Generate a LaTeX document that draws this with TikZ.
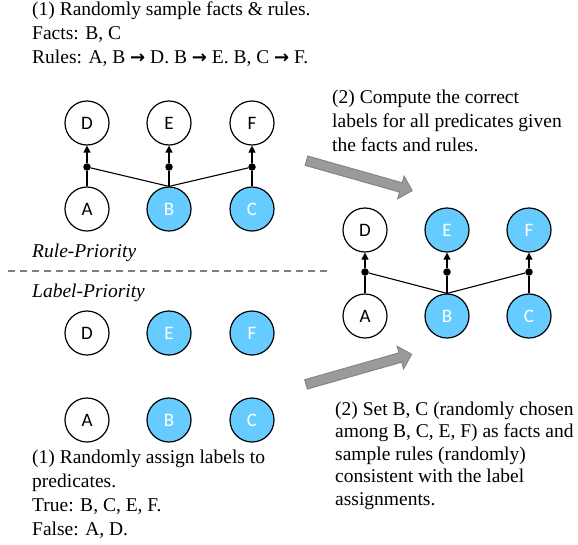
\documentclass[tikz,border=0pt]{standalone}
\usepackage{fontspec}
\setmainfont{Liberation Serif}
\newfontfamily\predfont{Carlito}
\newfontfamily\arrowfont{DejaVu Sans}
\usetikzlibrary{arrows.meta,shapes.arrows}

\definecolor{factblue}{HTML}{66CCFF}
\definecolor{stepfill}{HTML}{9A9A9A}
\definecolor{stepline}{HTML}{7F7F7F}

\newcommand{\ra}{{\arrowfont\bfseries\fontsize{18}{24}\selectfont →}}

\tikzset{
  pred/.style={circle, draw, line width=1.2pt, minimum size=44pt, inner sep=0pt,
    font=\predfont\fontsize{19}{19}\selectfont},
  fact/.style={pred, fill=factblue, text=white},
  junc/.style={circle, fill, inner sep=0pt, minimum size=7.5pt},
  infer/.style={line width=1.1pt, -{Triangle[length=7pt,width=7pt]}},
  txt/.style={anchor=base west, align=left, inner sep=0pt,
    font=\fontsize{19.5}{24}\selectfont},
  steparrow/.style={single arrow, draw=stepline, fill=stepfill, line width=0.8pt,
    minimum height=110pt, minimum width=23pt, inner sep=4.5pt,
    single arrow head extend=7pt}
}

\begin{document}
\begin{tikzpicture}[x=1pt, y=-1pt]
\useasboundingbox (0,0) rectangle (578,544);

% texts are anchored at the baseline of their last line
\node[txt] (sample) at (32,63) {(1) Randomly sample facts \& rules.\\
Facts: B, C\\
Rules: A, B \ra{} D. B \ra{} E. B, C \ra{} F.};

% rule-priority graph
\node[pred] (rD) at (87,123) {D};
\node[pred] (rE) at (169,123) {E};
\node[pred] (rF) at (252,123) {F};
\node[pred] (rA) at (87,209) {A};
\node[fact] (rB) at (169,209) {B};
\node[fact] (rC) at (252,209) {C};
\node[junc] (rjD) at (87,167) {};
\node[junc] (rjE) at (169,167) {};
\node[junc] (rjF) at (252,167) {};

\draw[line width=1.1pt] (rA) -- (rjD);
\draw[line width=1.1pt] (rB.north) -- (rjD);
\draw[line width=1.1pt] (rB) -- (rjE);
\draw[line width=1.1pt] (rB.north) -- (rjF);
\draw[line width=1.1pt] (rC) -- (rjF);
\foreach \p in {D,E,F}
  \draw[infer] (rj\p) -- (r\p);

\node[txt, font=\itshape\fontsize{19.5}{24}\selectfont] (rule) at (32,257) {Rule-Priority};
\draw[stepline, line width=2.5pt, dash pattern=on 7pt off 5pt] (8,271) -- (330,271);
\node[txt, font=\itshape\fontsize{19.5}{24}\selectfont] (label) at (32,297) {Label-Priority};

% label-priority graph
\node[pred] (lD) at (87,333) {D};
\node[fact] (lE) at (169,333) {E};
\node[fact] (lF) at (252,333) {F};
\node[pred] (lA) at (87,420) {A};
\node[fact] (lB) at (169,420) {B};
\node[fact] (lC) at (252,420) {C};

\node[txt] (assign) at (32,535) {(1) Randomly assign labels to\\
predicates.\\
True: B, C, E, F.\\
False: A, D.};

% computed graph
\node[pred] (cD) at (365,230) {D};
\node[fact] (cE) at (447,230) {E};
\node[fact] (cF) at (529,230) {F};
\node[pred] (cA) at (365,316) {A};
\node[fact] (cB) at (447,316) {B};
\node[fact] (cC) at (529,316) {C};
\node[junc] (cjD) at (365,272) {};
\node[junc] (cjE) at (447,272) {};
\node[junc] (cjF) at (529,272) {};

\draw[line width=1.1pt] (cA) -- (cjD);
\draw[line width=1.1pt] (cB.north) -- (cjD);
\draw[line width=1.1pt] (cB) -- (cjE);
\draw[line width=1.1pt] (cB.north) -- (cjF);
\draw[line width=1.1pt] (cC) -- (cjF);
\foreach \p in {D,E,F}
  \draw[infer] (cj\p) -- (c\p);

\node[txt] (compute) at (332,151) {(2) Compute the correct\\
labels for all predicates given\\
the facts and rules.};

\node[txt, font=\fontsize{19.5}{22.5}\selectfont] (setfacts) at (335,505) {(2) Set B, C (randomly chosen\\
among B, C, E, F) as facts and\\
sample rules (randomly)\\
consistent with the label\\
assignments.};

% step arrows
\node[steparrow, rotate=-15.8] (down) at (357,175) {};
\node[steparrow, rotate=15.9] (up) at (356.5,370) {};

\end{tikzpicture}
\end{document}
